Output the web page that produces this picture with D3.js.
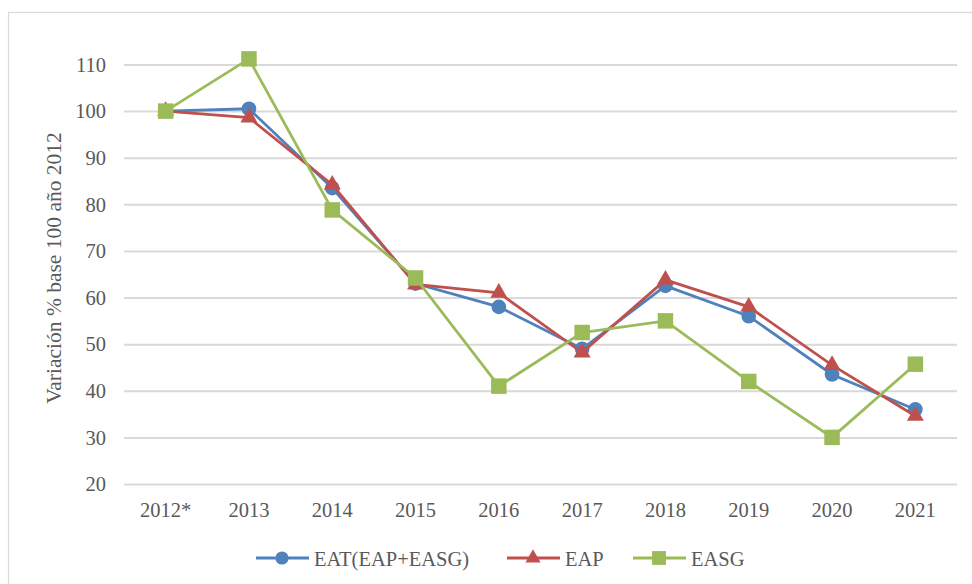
<!DOCTYPE html>
<html>
<head>
<meta charset="utf-8">
<script src="https://cdn.jsdelivr.net/npm/d3@7"></script>
</head>
<body style="margin:0">
<script>
var years = ["2012*", "2013", "2014", "2015", "2016", "2017", "2018", "2019", "2020", "2021"];
var eat  = [100, 100.5, 83.5, 63, 58, 49, 62.5, 56, 43.5, 36];
var eap  = [100, 98.6, 84.2, 62.8, 61, 48.2, 63.8, 58, 45.5, 34.6];
var easg = [100, 111.2, 78.8, 64.2, 41, 52.5, 55, 42, 30, 45.7];
var yTicks = [20, 30, 40, 50, 60, 70, 80, 90, 100, 110];
var seriesNames = ["EAT(EAP+EASG)", "EAP", "EASG"];

var w = 972, h = 584;
var fontStack = "'Liberation Serif', Tinos, 'Times New Roman', serif";
var textColor = "#595959";
var series = [
  {name: seriesNames[0], values: eat, color: "#4F81BD", shape: d3.symbolCircle, size: 170},
  {name: seriesNames[1], values: eap, color: "#C0504D", shape: d3.symbolTriangle, size: 125},
  {name: seriesNames[2], values: easg, color: "#9BBB59", shape: d3.symbolSquare, size: 240}
];

var svg = d3.select("body").append("svg").attr("width", w).attr("height", h)
  .style("font-family", fontStack, "important");

// outer frame (runs off the right and bottom edges)
svg.append("rect")
  .attr("x", 8.5).attr("y", 12.5)
  .attr("width", w + 10).attr("height", h + 10)
  .attr("fill", "none").attr("stroke", "#d9d9d9").attr("stroke-width", 1.2);

var x = d3.scaleBand().domain(years).range([124, 957]);
var y = d3.scaleLinear().domain([20, 110]).range([484, 64.5]);

// gridlines
svg.append("g")
  .attr("transform", "translate(124,0)")
  .call(d3.axisLeft(y).tickValues(yTicks).tickSize(-(957 - 124)).tickFormat(""))
  .call(g => g.select(".domain").remove())
  .call(g => g.selectAll("line").attr("stroke", "#d9d9d9").attr("stroke-width", 2));

// tick labels
svg.append("g").selectAll("text")
  .data(yTicks).enter().append("text")
  .attr("x", 106).attr("y", d => y(d)).attr("dy", "0.35em")
  .attr("text-anchor", "end")
  .style("font-family", fontStack, "important").attr("font-size", 20.5).attr("fill", textColor)
  .text(d => d);

svg.append("g").selectAll("text")
  .data(years).enter().append("text")
  .attr("x", d => x(d) + x.bandwidth() / 2).attr("y", 517)
  .attr("text-anchor", "middle")
  .style("font-family", fontStack, "important").attr("font-size", 20.5).attr("fill", textColor)
  .text(d => d);

svg.append("text")
  .attr("transform", "translate(61,268) rotate(-90)")
  .attr("text-anchor", "middle")
  .style("font-family", fontStack, "important")
  .attr("font-size", 21.5)
  .attr("fill", textColor)
  .text("Variación % base 100 año 2012");

var cx = (d, i) => x(years[i]) + x.bandwidth() / 2;
var line = d3.line().x(cx).y(d => y(d));

series.forEach(function(s) {
  svg.append("path")
    .datum(s.values)
    .attr("d", line)
    .attr("fill", "none")
    .attr("stroke", s.color)
    .attr("stroke-width", 2.8);
  svg.append("g").selectAll("path")
    .data(s.values).enter()
    .append("path")
    .attr("d", d3.symbol().type(s.shape).size(s.size))
    .attr("transform", (d, i) => "translate(" + cx(d, i) + "," + y(d) + ")")
    .attr("fill", s.color);
});

// legend
var legendX = [256, 507, 633];
series.forEach(function(s, i) {
  var g = svg.append("g").attr("transform", "translate(" + legendX[i] + ",558)");
  g.append("line").attr("x1", 0).attr("x2", 53).attr("stroke", s.color).attr("stroke-width", 2.8);
  g.append("path").attr("d", d3.symbol().type(s.shape).size(s.size * 0.8)).attr("transform", "translate(26,0)").attr("fill", s.color);
  g.append("text").attr("x", 58).attr("y", 8)
    .style("font-family", fontStack, "important").attr("font-size", 20.5).attr("fill", textColor)
    .text(s.name);
});
</script>
</body>
</html>
